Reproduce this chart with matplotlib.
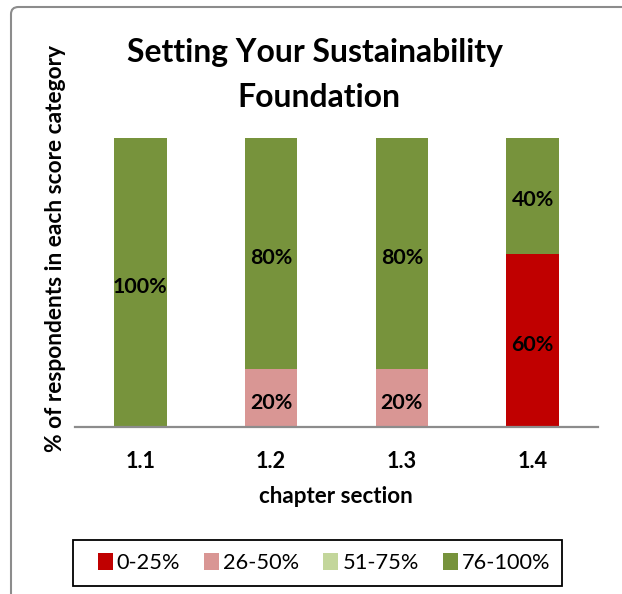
import matplotlib
matplotlib.use("Agg")
import matplotlib.pyplot as plt
from matplotlib.patches import FancyBboxPatch, Patch, Rectangle
from matplotlib.transforms import ScaledTranslation
import numpy as np

plt.rcParams['font.family'] = ['Lato', 'DejaVu Sans']

categories = ["1.1", "1.2", "1.3", "1.4"]
series_names = ["0-25%", "26-50%", "51-75%", "76-100%"]
s_0_25 = [0, 0, 0, 60]
s_26_50 = [0, 20, 20, 0]
s_51_75 = [0, 0, 0, 0]
s_76_100 = [100, 80, 80, 40]
colors = ["#C00000", "#D99694", "#C3D69B", "#77933C"]
title_lines = ["Setting Your Sustainability", "Foundation"]
xlabel = "chapter section"
ylabel = "% of respondents in each score category"

W, H = 622, 594
DPI = 100
fig = plt.figure(figsize=(W / DPI, H / DPI), dpi=DPI)
px = 1.0 / DPI


def fy(ypx):
    return 1 - ypx / H


def fit(texts, target, dim="w", iters=2):
    """Scale font size of the texts so the first one has the target pixel extent."""
    for _ in range(iters):
        r = fig.canvas.get_renderer()
        bb = texts[0].get_window_extent(r)
        cur = bb.width if dim == "w" else bb.height
        f = target / cur
        for t in texts:
            t.set_fontsize(t.get_fontsize() * f)


# outer chart border (extends beyond the right and bottom edges of the image)
fig.patches.append(FancyBboxPatch((11 / W, -30 / H), (W + 40) / W, (H + 30 - 7) / H,
                                  boxstyle="round,pad=0,rounding_size=0.012",
                                  transform=fig.transFigure, fill=False,
                                  edgecolor="#8c8c8c", linewidth=1.5))

ax = fig.add_axes([75 / W, fy(427), (598 - 75) / W, (427 - 138) / H])
x = np.arange(len(categories))
bottom = np.zeros(len(categories))
lab_off = ax.transData + ScaledTranslation(0, -10.5 * px, fig.dpi_scale_trans)
value_texts = []
for name, vals, c in zip(series_names, [s_0_25, s_26_50, s_51_75, s_76_100], colors):
    vals = np.array(vals, dtype=float)
    ax.bar(x, vals, 0.4, bottom=bottom, color=c, label=name)
    for xi, v, b in zip(x, vals, bottom):
        if v > 0:
            value_texts.append(ax.text(xi, b + v / 2, f"{int(v)}%", ha="center",
                                       va="baseline", fontsize=16, fontweight="bold",
                                       color="black", transform=lab_off))
    bottom += vals

ax.set_xlim(-0.5, len(categories) - 0.5)
ax.set_ylim(0, 100)
ax.set_yticks([])
ax.set_xticks(x)
ax.set_xticklabels(categories, fontsize=16, fontweight="bold")
ax.tick_params(axis="x", length=0, pad=(468 - 427) * 0.72)
for lab in ax.get_xticklabels():
    lab.set_va("baseline")
for s in ["top", "right", "left"]:
    ax.spines[s].set_visible(False)
ax.spines["bottom"].set_color("#8c8c8c")
ax.spines["bottom"].set_linewidth(1.6)

xl = ax.set_xlabel(xlabel, fontsize=16, fontweight="bold", va="baseline")
ax.xaxis.set_label_coords(336 / W, fy(503), transform=fig.transFigure)
yl = ax.set_ylabel(ylabel, fontsize=16, fontweight="bold", va="center")
ax.yaxis.set_label_coords(56 / W, fy(249), transform=fig.transFigure)

t1 = fig.text(315 / W, fy(62), title_lines[0], ha="center", va="baseline",
              fontsize=23, fontweight="bold")
t2 = fig.text(319 / W, fy(107), title_lines[1], ha="center", va="baseline",
              fontsize=23, fontweight="bold")

fig.canvas.draw()
fit([t1, t2], 374)
fit([yl], 408, dim="h")
fit([xl], 153)
fit(ax.get_xticklabels(), 30)
hundred = [t for t in value_texts if t.get_text() == "100%"]
fit(hundred + [t for t in value_texts if t not in hundred], 55)

# legend
handles = [Patch(facecolor=c, edgecolor="none") for c in colors]
leg_center = (324 / W, fy(563))
fixed = 4 * (15 + 4) + 3 * 24
target = 550 - 98


def make_legend(fs):
    fpx = fs / 72 * DPI
    return fig.legend(handles, series_names, loc="center", bbox_to_anchor=leg_center,
                      ncol=4, frameon=False, fontsize=fs,
                      handlelength=15 / fpx, handleheight=17 / fpx, handletextpad=4 / fpx,
                      columnspacing=24 / fpx, borderpad=0, borderaxespad=0)


fs = 16.0
leg = make_legend(fs)
for _ in range(3):
    fig.canvas.draw()
    w = leg.get_window_extent(fig.canvas.get_renderer()).width
    fs *= (target - fixed) / (w - fixed)
    leg.remove()
    leg = make_legend(fs)

fig.patches.append(Rectangle((73 / W, fy(586)), (562 - 73) / W, (586 - 540) / H,
                             transform=fig.transFigure, fill=False,
                             edgecolor="black", linewidth=1.3))

fig.savefig("out.png", dpi=DPI)
